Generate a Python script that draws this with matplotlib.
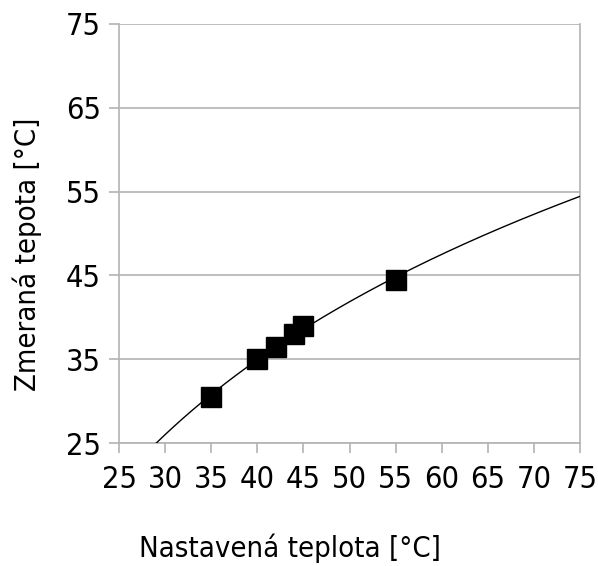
import numpy as np
import matplotlib
matplotlib.use("Agg")
import matplotlib.pyplot as plt

plt.rcParams['font.family'] = 'DejaVu Sans'
plt.rcParams['font.stretch'] = 'condensed'

# measured points: set vs measured temperature
set_temp = [35, 40, 42, 44, 45, 55]
meas_temp = [30.5, 35, 36.5, 38, 39, 44.5]

ticks = [25, 30, 35, 40, 45, 50, 55, 60, 65, 70, 75]
yticks = [25, 35, 45, 55, 65, 75]

grey = '#b3b3b3'

fig = plt.figure(figsize=(5.98, 5.66), dpi=100)
ax = fig.add_axes([0.199, 0.217, 0.771, 0.741])

# logarithmic trendline fitted to the points
a, b = np.polyfit(np.log(set_temp), meas_temp, 1)
xs = np.linspace(25, 75, 300)
ax.plot(xs, a * np.log(xs) + b, color='black', linewidth=1, zorder=3)

ax.plot(set_temp, meas_temp, 's', color='black', markersize=14.5, zorder=4)

ax.set_xlim(25, 75)
ax.set_ylim(25, 75)
ax.set_xticks(ticks)
ax.set_yticks(yticks)
ax.yaxis.grid(True, color=grey, linewidth=1.2)
ax.set_axisbelow(True)

for sp in ax.spines.values():
    sp.set_color(grey)
    sp.set_linewidth(1.2)
ax.spines['top'].set_visible(False)

ax.tick_params(length=7, width=1.2, color=grey, labelsize=22)
ax.tick_params(axis='x', pad=9)
ax.tick_params(axis='y', pad=6)

ax.set_xlabel('Nastavená teplota [°C]', fontsize=21)
ax.set_ylabel('Zmeraná tepota [°C]', fontsize=21)
ax.xaxis.set_label_coords(0.371, -0.216)
ax.yaxis.set_label_coords(-0.167, 0.451)

fig.savefig('out.png', dpi=100)
